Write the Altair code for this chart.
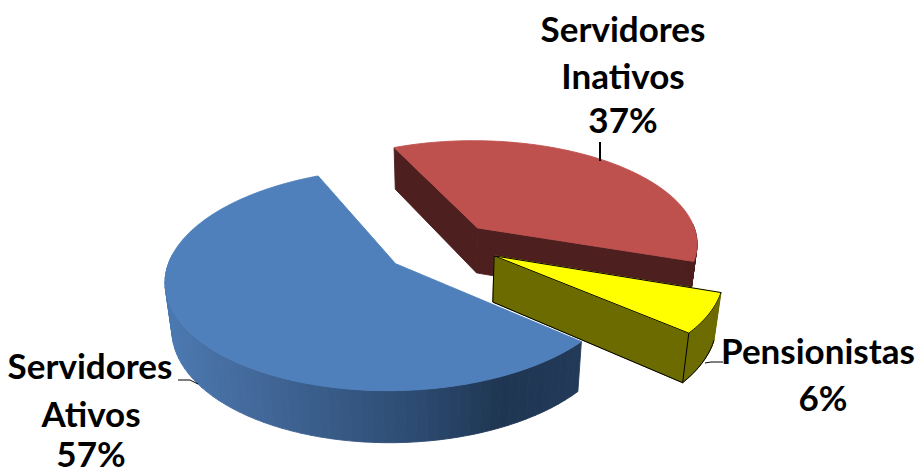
import math
import altair as alt
import pandas as pd

# ---- data ----
names = ["Servidores Ativos", "Pensionistas", "Servidores Inativos"]
shares = [57, 6, 37]
label_lines = [["Servidores", "Ativos"], ["Pensionistas"], ["Servidores", "Inativos"]]

# ---- style ----
top_colors = ["#4F80BC", "#FFFF00", "#BE514E"]
side_colors = ["#1F3552", "#6B6B00", "#4E1F1F"]
blue_stops = [(170, (74, 120, 176)), (250, (68, 105, 155)), (333, (55, 90, 134)),
              (420, (44, 74, 112)), (500, (31, 54, 83)), (584, (34, 58, 88))]

# ---- 3D projection of the pie (layout) ----
CX, CY, S, SK, P, EXPLODE = 441.0, 247.7, 222.4, 104.3, 0.14, 0.25
FIRST_ANGLE = 24.3
SHRINK, DROP, DROP_SLOPE = 0.975, 45.0, 0.043
NUDGES = [(0, 0), (4, -5), (0, -1)]
W, H = 907, 462


def project(X, Y):
    w = 1 - P * Y
    return CX + S * X / w, CY + SK * Y / w


def direction(phi):
    r = math.radians(phi)
    return -math.sin(r), -math.cos(r)


def lower(pt):
    x, y = pt
    return CX + (x - CX) * SHRINK, y + DROP + DROP_SLOPE * (y - 227)


def wedge(phi0, span, nudge):
    mid = phi0 + span / 2
    ex, ey = direction(mid)
    ox, oy = EXPLODE * ex, EXPLODE * ey
    ax, ay = project(ox, oy)
    apex = (ax + nudge[0], ay + nudge[1])
    arc = []
    n = max(int(span), 8)
    for i in range(n + 1):
        phi = phi0 + span * i / n
        dx, dy = direction(phi)
        px, py = project(ox + dx, oy + dy)
        arc.append((phi, (px + nudge[0], py + nudge[1])))
    return apex, arc


back_rows, front_rows = [], []
gid = [0]


def add_poly(rows, poly, color):
    """Split a polygon with connected vertical sections into one area mark."""
    xs = sorted({round(p[0], 2) for p in poly})
    gid[0] += 1
    n = len(poly)
    for x in xs:
        ys = []
        for i in range(n):
            (x1, y1), (x2, y2) = poly[i], poly[(i + 1) % n]
            if min(x1, x2) - 0.01 <= x <= max(x1, x2) + 0.01:
                if abs(x2 - x1) < 1e-6:
                    ys += [y1, y2]
                else:
                    t = min(1, max(0, (x - x1) / (x2 - x1)))
                    ys.append(y1 + t * (y2 - y1))
        rows.append({"x": x, "y": min(ys), "y2": max(ys), "g": gid[0], "c": color})


def blue_side(x):
    for (a, ca), (b, cb) in zip(blue_stops, blue_stops[1:]):
        if x <= b:
            t = max(0, (x - a) / (b - a))
            return "#%02x%02x%02x" % tuple(round(u + t * (v - u)) for u, v in zip(ca, cb))
    return "#%02x%02x%02x" % blue_stops[-1][1]


angles = []
phi = FIRST_ANGLE
for v in shares:
    angles.append((phi, v * 3.6))
    phi += v * 3.6

blue, yellow, red = [wedge(a, s, n) for (a, s), n in zip(angles, NUDGES)]
edge_rows, leader_rows = [], []


def add_line(rows, pts, lid, width=1.0):
    for i, (x, y) in enumerate(pts):
        rows.append({"x": x, "y": y, "o": i, "l": lid, "w": width})


# red: cut faces, outer side, top
a, arc = red
add_poly(back_rows, [a, arc[-1][1], lower(arc[-1][1]), lower(a)], side_colors[2])
add_poly(back_rows, [a, arc[0][1], lower(arc[0][1]), lower(a)], side_colors[2])
for (p1, q1), (p2, q2) in zip(arc, arc[1:]):
    if p1 < 272:
        add_poly(back_rows, [q1, q2, lower(q2), lower(q1)], side_colors[2])
add_poly(back_rows, [a] + [q for _, q in arc], top_colors[2])

# yellow: cut face, outer side, top
a, arc = yellow
add_poly(back_rows, [a, arc[0][1], lower(arc[0][1]), lower(a)], side_colors[1])
for (p1, q1), (p2, q2) in zip(arc, arc[1:]):
    add_poly(back_rows, [q1, q2, lower(q2), lower(q1)], side_colors[1])
add_poly(back_rows, [a] + [q for _, q in arc], top_colors[1])
yellow_pts = [q for _, q in arc]
add_line(edge_rows, [a] + yellow_pts + [a], "y_top")
add_line(edge_rows, [a, lower(a), lower(arc[0][1]), arc[0][1]], "y_front")
add_line(edge_rows, [lower(q) for q in yellow_pts], "y_low")

# blue: outer side strips, top
a, arc = blue
fine = []
phi0, span = angles[0]
ex, ey = direction(phi0 + span / 2)
for i in range(61):
    ph = 85 + (phi0 + span - 85) * i / 60
    dx, dy = direction(ph)
    fine.append(project(EXPLODE * ex + dx, EXPLODE * ey + dy))
for q1, q2 in zip(fine, fine[1:]):
    add_poly(front_rows, [q1, q2, lower(q2), lower(q1)], blue_side((q1[0] + q2[0]) / 2))
add_poly(front_rows, [a] + [q for _, q in arc], top_colors[0])

# ---- labels and leaders ----
label_pos = [((90, 368), (91, 416), (91, 456)), ((818, 353), (823, 400)), ((623, 31), (623, 78), (623, 122))]
texts = []
for ln, pos, v in zip(label_lines, label_pos, shares):
    for t, (x, y) in zip(ln + [f"{v}%"], pos):
        texts.append({"x": x, "y": y, "t": t})

add_line(leader_rows, [(178, 380), (190, 380), (198, 384)], "l_blue", 1.0)
add_line(leader_rows, [(705, 363), (711, 362), (723, 362)], "l_yellow", 1.0)
add_line(leader_rows, [(600, 142), (600, 161)], "l_red", 2.0)

xs = alt.Scale(domain=[8, 8 + W], range=[0, W], nice=False, zero=False)
ys = alt.Scale(domain=[8, 8 + H], range=[0, H], nice=False, zero=False)
X = alt.X("x:Q", scale=xs, axis=None)
Y = alt.Y("y:Q", scale=ys, axis=None)


def area_layer(rows):
    return alt.Chart(pd.DataFrame(rows)).mark_area(interpolate="linear", strokeWidth=0.9).encode(
        x=X, y=Y, y2="y2:Q", detail="g:N",
        fill=alt.Fill("c:N", scale=None), stroke=alt.Stroke("c:N", scale=None),
    )


def line_layer(rows):
    return alt.Chart(pd.DataFrame(rows)).mark_line(color="#000000", interpolate="linear").encode(
        x=X, y=Y, detail="l:N", order="o:Q",
        strokeWidth=alt.StrokeWidth("w:Q", scale=None),
    )


labels = alt.Chart(pd.DataFrame(texts)).mark_text(
    font="Lato", fontWeight="bold", fontSize=35, color="#000000", baseline="middle", align="center"
).encode(x=X, y=Y, text="t:N")

chart = alt.layer(
    area_layer(back_rows), line_layer(edge_rows), area_layer(front_rows), line_layer(leader_rows), labels
).properties(
    width=W, height=H, padding=0, autosize=alt.AutoSizeParams(type="none"),
).configure_view(stroke=None)
chart.save("out.html", embed_options={"renderer": "svg", "actions": False})
